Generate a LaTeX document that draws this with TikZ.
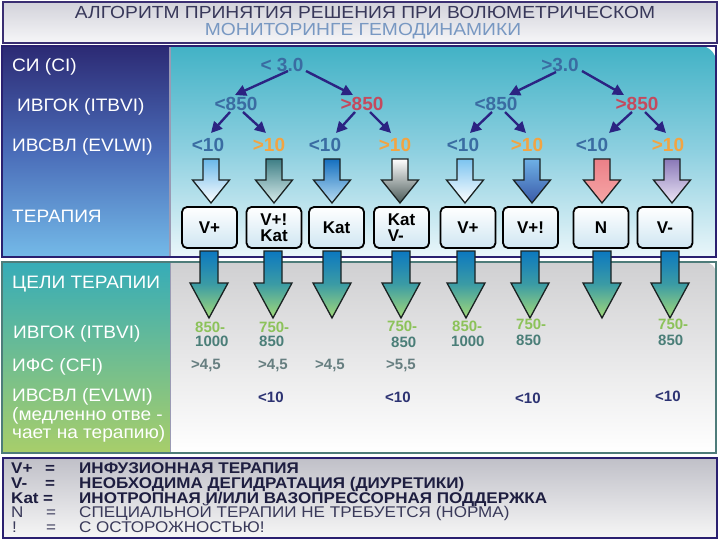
\documentclass[tikz,border=0pt]{standalone}
\usepackage{fontspec}
\setmainfont{Liberation Sans}
\newfontfamily\widefont[FakeStretch=1.1]{Liberation Sans}
\newfontfamily\labfont[FakeStretch=1.06]{Liberation Sans}
\usetikzlibrary{arrows.meta,calc}

\definecolor{cNavy}{HTML}{2B2382}
\definecolor{cBorder}{HTML}{2A2070}
\definecolor{cTitBorder}{HTML}{3A2E72}
\definecolor{cTitA}{HTML}{D2D2DA}
\definecolor{cTitB}{HTML}{F6F6F8}
\definecolor{cTitle1}{HTML}{38385A}
\definecolor{cTitle2}{HTML}{7898C2}
\definecolor{cTL1}{HTML}{2C2A74}
\definecolor{cTL2}{HTML}{4A6CB8}
\definecolor{cTL3}{HTML}{74BAE8}
\definecolor{cTR1}{HTML}{42B2C6}
\definecolor{cTR2}{HTML}{8ED0E0}
\definecolor{cTR3}{HTML}{EAF6FA}
\definecolor{cDiv}{HTML}{9A9AB4}
\definecolor{cBL1}{HTML}{36ACB8}
\definecolor{cBL2}{HTML}{A8CE6A}
\definecolor{cBR1}{HTML}{D0D0D2}
\definecolor{cBR2}{HTML}{FFFFFF}
\definecolor{cGreenB}{HTML}{4E7C7A}
\definecolor{cLg1}{HTML}{C0C0C8}
\definecolor{cLg2}{HTML}{F6F6F6}
\definecolor{cLow}{HTML}{3A6CA2}
\definecolor{cHigh}{HTML}{C44A5E}
\definecolor{cOrange}{HTML}{F2A442}
\definecolor{cGoalA}{HTML}{8CC25A}
\definecolor{cGoalB}{HTML}{4A7E78}
\definecolor{cCfi}{HTML}{667E80}
\definecolor{cEv}{HTML}{2C3272}
\definecolor{cLeg}{HTML}{1E1E40}
\definecolor{cLeg2}{HTML}{3A3A5A}
\definecolor{cArrowEdge}{HTML}{1A2222}
\definecolor{cBoxB}{HTML}{CFE6F2}
\definecolor{cBlue}{HTML}{0C78C0}
\definecolor{cTeal}{HTML}{3C9CA4}
\definecolor{cLGreen}{HTML}{A4DA78}
\definecolor{cA1}{HTML}{6AB8EA}
\definecolor{cA2t}{HTML}{3F7F86}
\definecolor{cA2b}{HTML}{D8ECEB}
\definecolor{cA3t}{HTML}{1570C0}
\definecolor{cA3b}{HTML}{B8DCF2}
\definecolor{cA4b}{HTML}{4A5A58}
\definecolor{cA5}{HTML}{7CC4F0}
\definecolor{cA6t}{HTML}{6EB0E6}
\definecolor{cA6b}{HTML}{3A5AA8}
\definecolor{cA7t}{HTML}{EC8088}
\definecolor{cA7b}{HTML}{F6A6A6}
\definecolor{cA8t}{HTML}{8A78B8}
\definecolor{cA8b}{HTML}{ECE6F6}

\newcommand{\setfs}[1]{\fontsize{#1}{#1}\selectfont}
\newcommand{\barrow}[7]{\shadedraw[#7] (#1-#5,#2) -- (#1+#5,#2) -- (#1+#5,#3) -- (#1+#6,#3) -- (#1,#4) -- (#1-#6,#3) -- (#1-#5,#3) -- cycle;}

\begin{document}
\begin{tikzpicture}[x=1pt,y=-1pt,line join=miter,
  lab/.style={text=white,anchor=west,inner sep=0pt,font=\labfont\setfs{18},text height=12.9pt,text depth=0pt},
  tree/.style={inner sep=0pt,font=\bfseries\setfs{19},text height=13.6pt,text depth=0pt},
  lo/.style={tree,text=cLow},
  hi/.style={tree,text=cHigh},
  ev/.style={tree,text=cOrange},
  tarrow/.style={draw=cNavy,line width=2.4pt,-{Triangle[length=11pt,width=11pt]}},
  tbox/.style={draw=black,line width=1.8pt,rounded corners=5pt,top color=white,bottom color=cBoxB,
    minimum width=55pt,minimum height=41pt,inner sep=0pt,align=left,font=\bfseries\fontsize{17}{16.5}\selectfont},
  goal/.style={anchor=west,inner sep=0pt,font=\bfseries\setfs{15},text height=10.7pt,text depth=0pt},
  ga/.style={goal,text=cGoalA},
  gb/.style={goal,text=cGoalB},
  gc/.style={goal,text=cCfi},
  gd/.style={goal,text=cEv},
  leg/.style={anchor=west,inner sep=0pt,font=\widefont\bfseries\setfs{15.5},text height=11.1pt,text depth=0pt,text=cLeg},
  legl/.style={anchor=west,inner sep=0pt,font=\widefont\setfs{15.5},text height=11.1pt,text depth=0pt,text=cLeg2},
  ttl/.style={inner sep=0pt,font=\widefont\setfs{17.5},text height=12.5pt,text depth=0pt},
  edge/.style={draw=cArrowEdge,line width=1.3pt},
  ba/.style={edge,top color=cBlue,bottom color=cLGreen,middle color=cTeal}]
\useasboundingbox (0,0) rectangle (720,540);
\fill[white] (0,0) rectangle (720,540);

% title
\shadedraw[top color=cTitA,bottom color=cTitB,draw=cTitBorder,line width=1.8pt] (3,2) rectangle (717,43);
\node[ttl,text=cTitle1] (title1) at (365,12.5) {АЛГОРИТМ ПРИНЯТИЯ РЕШЕНИЯ ПРИ ВОЛЮМЕТРИЧЕСКОМ};
\node[ttl,text=cTitle2] (title2) at (363,29.5) {МОНИТОРИНГЕ ГЕМОДИНАМИКИ};

% top panel
\shade[top color=cTL1,bottom color=cTL3,middle color=cTL2] (2,46) rectangle (170,257);
\shade[top color=cTR1,bottom color=cTR3,middle color=cTR2] (170,46) -- (700,46) .. controls (709,46) and (716,53) .. (716,62) -- (716,257) -- (170,257) -- cycle;
\draw[cDiv,line width=1.2pt] (170,46) -- (170,257);
\draw[cBorder,line width=2.2pt] (2,46) rectangle (716,257);

% bottom panel
\shade[top color=cBL1,bottom color=cBL2] (2,262) rectangle (170,453);
\shade[top color=cBR1,bottom color=cBR2] (170,262) -- (704,262) .. controls (711,262) and (716,267) .. (716,274) -- (716,453) -- (170,453) -- cycle;
\draw[cDiv,line width=1pt] (170,262) -- (170,453);
\draw[cGreenB,line width=2pt] (2,262) rectangle (716,453);

% legend panel
\shadedraw[top color=cLg1,bottom color=cLg2,draw=cBorder,line width=2pt] (3,458) rectangle (717,538);

% left labels
\node[lab] (lci) at (12,65) {СИ (CI)};
\node[lab] (litbvi) at (17,105) {ИВГОК (ITBVI)};
\node[lab] (levlwi) at (12,145) {ИВСВЛ (EVLWI)};
\node[lab] (lther) at (12,216) {ТЕРАПИЯ};
\node[lab] (lgoal) at (12,282) {ЦЕЛИ ТЕРАПИИ};
\node[lab] (litbvib) at (13,332) {ИВГОК (ITBVI)};
\node[lab] (lcfi) at (12,365) {ИФС (CFI)};
\node[lab] (levlwib) at (12,395.5) {ИВСВЛ (EVLWI)};
\node[lab] (lslowa) at (12,414.5) {(медленно отве -};
\node[lab] (lslowb) at (12,432) {чает на терапию)};

% decision tree
\node[lo] (c1) at (282,65) {< 3.0};
\node[lo] (c2) at (560,65) {>3.0};
\node[lo] (i1) at (236,104) {<850};
\node[hi] (i2) at (362,104) {>850};
\node[lo] (i3) at (496,104) {<850};
\node[hi] (i4) at (637,104) {>850};
\node[lo] (e1) at (208,145) {<10};
\node[ev] (e2) at (269,145) {>10};
\node[lo] (e3) at (325,145) {<10};
\node[ev] (e4) at (395,145) {>10};
\node[lo] (e5) at (463,145) {<10};
\node[ev] (e6) at (527,145) {>10};
\node[lo] (e7) at (592,145) {<10};
\node[ev] (e8) at (668,145) {>10};

\draw[tarrow] ($(c1)+(6,6)$) -- ($(i1)+(-1,-9)$);
\draw[tarrow] ($(c1)+(24,6)$) -- ($(i2)+(-9,-9)$);
\draw[tarrow] ($(c2)+(-4,7)$) -- ($(i3)+(13,-9)$);
\draw[tarrow] ($(c2)+(22,6)$) -- ($(i4)+(-13,-9)$);
\draw[tarrow] ($(i1)+(-6,8)$) -- ($(e1)+(3,-12)$);
\draw[tarrow] ($(i1)+(7,8)$) -- ($(e2)+(-3,-12)$);
\draw[tarrow] ($(i2)+(-7,8)$) -- ($(e3)+(11,-12)$);
\draw[tarrow] ($(i2)+(8,8)$) -- ($(e4)+(-4,-12)$);
\draw[tarrow] ($(i3)+(-4,8)$) -- ($(e5)+(7,-12)$);
\draw[tarrow] ($(i3)+(9,8)$) -- ($(e6)+(-1,-12)$);
\draw[tarrow] ($(i4)+(-5,8)$) -- ($(e7)+(17,-12)$);
\draw[tarrow] ($(i4)+(8,8)$) -- ($(e8)+(-2,-12)$);

% block arrows into therapy boxes
\barrow{211}{159}{180}{203}{8}{18.5}{edge,top color=cA1,bottom color=white}
\barrow{274}{159}{180}{203}{8}{18.5}{edge,top color=cA2t,bottom color=cA2b}
\barrow{332}{159}{180}{203}{8}{18.5}{edge,top color=cA3t,bottom color=cA3b}
\barrow{400}{159}{180}{203}{8}{18.5}{edge,top color=white,bottom color=cA4b}
\barrow{465}{159}{180}{203}{8}{18.5}{edge,top color=cA5,bottom color=white}
\barrow{532}{159}{180}{203}{8}{18.5}{edge,top color=cA6t,bottom color=cA6b}
\barrow{602}{159}{180}{203}{8}{18.5}{edge,top color=cA7t,bottom color=cA7b}
\barrow{672}{159}{180}{203}{8}{18.5}{edge,top color=cA8t,bottom color=cA8b}

% block arrows to goals
\barrow{209}{251}{283}{318}{9}{19}{ba}
\barrow{273}{251}{283}{318}{9}{19}{ba}
\barrow{332}{251}{283}{318}{9}{19}{ba}
\barrow{401}{251}{283}{318}{9}{19}{ba}
\barrow{466}{251}{283}{318}{9}{19}{ba}
\barrow{530}{251}{283}{318}{9}{19}{ba}
\barrow{602}{251}{283}{318}{9}{19}{ba}
\barrow{670}{251}{283}{318}{9}{19}{ba}

% therapy boxes
\node[tbox] (b1) at (209.5,227.5) {V+};
\node[tbox] (b2) at (274,227.5) {V+!\\Kat};
\node[tbox] (b3) at (336.5,227.5) {Kat};
\node[tbox] (b4) at (401.5,227.5) {Kat\\V-};
\node[tbox] (b5) at (468,227.5) {V+};
\node[tbox] (b6) at (530.5,227.5) {V+!};
\node[tbox] (b7) at (601,227.5) {N};
\node[tbox] (b8) at (665,227.5) {V-};

% goals
\node[ga] (g1a) at (195,327) {850-};
\node[gb] (g1b) at (195,341) {1000};
\node[ga] (g2a) at (259,327) {750-};
\node[gb] (g2b) at (259,341) {850};
\node[ga] (g4a) at (387,326) {750-};
\node[gb] (g4b) at (391,342) {850};
\node[ga] (g5a) at (452,326) {850-};
\node[gb] (g5b) at (451,341) {1000};
\node[ga] (g6a) at (516,324) {750-};
\node[gb] (g6b) at (516,340) {850};
\node[ga] (g8a) at (658,324) {750-};
\node[gb] (g8b) at (658,340) {850};
\node[gc] (f1) at (191,364) {>4,5};
\node[gc] (f2) at (258,364) {>4,5};
\node[gc] (f3) at (315,364) {>4,5};
\node[gc] (f4) at (386,364) {>5,5};
\node[gd] (w2) at (258,397) {<10};
\node[gd] (w4) at (385,397) {<10};
\node[gd] (w6) at (515,398) {<10};
\node[gd] (w8) at (655,396) {<10};

% legend
\node[leg] (k1) at (11,468) {V+};
\node[leg] (q1) at (45,468) {=};
\node[leg] (t1) at (79,468) {ИНФУЗИОННАЯ ТЕРАПИЯ};
\node[leg] (k2) at (11,483) {V-};
\node[leg] (q2) at (45,483) {=};
\node[leg] (t2) at (79,483) {НЕОБХОДИМА ДЕГИДРАТАЦИЯ (ДИУРЕТИКИ)};
\node[leg] (k3) at (11,497.5) {Kat};
\node[leg] (q3) at (43,497.5) {=};
\node[leg] (t3) at (79,497.5) {ИНОТРОПНАЯ И/ИЛИ ВАЗОПРЕССОРНАЯ ПОДДЕРЖКА};
\node[legl] (k4) at (11,512) {N};
\node[legl] (q4) at (46,512) {=};
\node[legl] (t4) at (79,512) {СПЕЦИАЛЬНОЙ ТЕРАПИИ НЕ ТРЕБУЕТСЯ (НОРМА)};
\node[legl] (k5) at (12,526.5) {!};
\node[legl] (q5) at (46,526.5) {=};
\node[legl] (t5) at (79,526.5) {С ОСТОРОЖНОСТЬЮ!};
\end{tikzpicture}
\end{document}
